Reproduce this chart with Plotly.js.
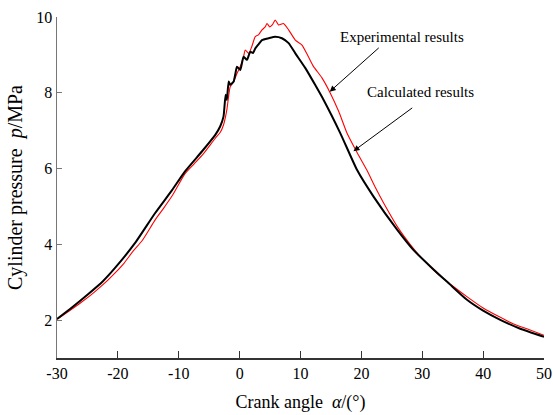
<!DOCTYPE html>
<html>
<head>
<meta charset="utf-8">
<script src="https://cdn.plot.ly/plotly-3.0.1.min.js"></script>
<style>html,body{margin:0;padding:0;background:#fff;}#chart{width:553px;height:415px;}</style>
</head>
<body>
<div id="chart"></div>
<script>
const calcX = [-30, -27.5, -25, -22.5, -20.5, -17.2, -13.9, -11.1, -9, -6.2, -4, -3.2, -2.65, -2.3, -2.1, -1.8, -1.55, -1.0, -0.7, -0.44, 0.1, 0.65, 1.2, 1.74, 2.2, 2.57, 3.1, 3.67, 4.75, 5.85, 6.95, 8.05, 9.15, 10.8, 12.4, 13.8, 16.55, 19.3, 22, 25.9, 28.5, 31.9, 34.5, 37.4, 40, 42.9, 46, 50];
const calcY = [2.03, 2.34, 2.67, 3.02, 3.37, 4.03, 4.82, 5.43, 5.92, 6.45, 6.89, 7.11, 7.37, 7.95, 7.81, 8.3, 8.21, 8.29, 8.5, 8.69, 8.6, 8.95, 8.87, 9.08, 9.05, 9.17, 9.28, 9.39, 9.44, 9.48, 9.44, 9.31, 9.04, 8.65, 8.21, 7.81, 6.93, 5.96, 5.26, 4.38, 3.86, 3.33, 2.95, 2.53, 2.25, 2.0, 1.78, 1.56];

const expX = [-30, -28, -26, -24, -22, -20.5, -19, -17.5, -16, -13.9, -12.5, -11, -9, -7.5, -6, -4, -3.2, -2.65, -2.1, -1.55, -1.0, -0.44, 0.1, 0.65, 0.92, 1.5, 2.0, 2.57, 3.1, 3.67, 4.2, 4.5, 4.95, 5.4, 5.85, 6.4, 7.2, 8.05, 9.15, 10.25, 11.3, 12.15, 13.5, 14.9, 16.3, 17.65, 19.2, 20.9, 22.3, 23.7, 26.1, 28, 30, 32.5, 35, 37.5, 40, 42.5, 45, 47.5, 50];
const expY = [2.02, 2.24, 2.47, 2.72, 3.0, 3.24, 3.5, 3.82, 4.1, 4.64, 4.95, 5.3, 5.86, 6.12, 6.38, 6.8, 6.95, 7.15, 7.55, 8.16, 8.29, 8.51, 8.69, 8.95, 9.13, 9.04, 9.22, 9.48, 9.53, 9.66, 9.74, 9.83, 9.74, 9.8, 9.92, 9.79, 9.83, 9.66, 9.39, 9.26, 8.95, 8.69, 8.4, 7.99, 7.5, 6.93, 6.45, 5.96, 5.5, 5.08, 4.42, 4.0, 3.62, 3.22, 2.9, 2.6, 2.32, 2.1, 1.9, 1.75, 1.6];

const xTicks = [-30, -20, -10, 0, 10, 20, 30, 40, 50];
const yTicks = [2, 4, 6, 8, 10];

const expLabel = 'Experimental results';
const calcLabel = 'Calculated results';

const traces = [
  {x: expX, y: expY, mode: 'lines', name: expLabel, line: {color: '#ff0000', width: 1.1, shape: 'spline', smoothing: 0.5}},
  {x: calcX, y: calcY, mode: 'lines', name: calcLabel, line: {color: '#000000', width: 2, shape: 'spline', smoothing: 0.5}}
];

const font = 'Liberation Serif';

const layout = {
  width: 553, height: 415,
  margin: {l: 57, r: 9, t: 17, b: 57},
  paper_bgcolor: '#fff', plot_bgcolor: '#fff',
  showlegend: false,
  font: {family: font, color: '#000', size: 16},
  xaxis: {
    range: [-30, 50], tickvals: xTicks, ticktext: xTicks.map(String),
    showline: true, linecolor: '#333', linewidth: 1.5, ticks: 'inside', ticklen: 7, tickcolor: '#333',
    showgrid: false, zeroline: false, tickfont: {family: font, size: 16, color: '#000'},
    title: {text: 'Crank angle  <i>α</i>/(°)', font: {family: font, size: 18}, standoff: 14}
  },
  yaxis: {
    range: [1, 10], tickvals: yTicks, ticktext: yTicks.map(String),
    showline: true, linecolor: '#777', linewidth: 1.5, ticks: 'inside', ticklen: 5, tickcolor: '#777',
    showgrid: false, zeroline: false, tickfont: {family: font, size: 16, color: '#000'},
    title: {text: 'Cylinder pressure  <i>p</i>/MPa', font: {family: font, size: 20}, standoff: 8}
  },
  annotations: [
    {x: 26.74, y: 9.46, xref: 'x', yref: 'y', text: expLabel, showarrow: false, font: {family: font, size: 15}},
    {x: 29.7, y: 8.02, xref: 'x', yref: 'y', text: calcLabel, showarrow: false, font: {family: font, size: 15}},
    {x: 14.8, y: 8.03, ax: 23.1, ay: 9.22, xref: 'x', yref: 'y', axref: 'x', ayref: 'y', text: '', showarrow: true, arrowhead: 2, arrowsize: 1.2, arrowwidth: 1, arrowcolor: '#000'},
    {x: 18.7, y: 6.46, ax: 28.6, ay: 7.63, xref: 'x', yref: 'y', axref: 'x', ayref: 'y', text: '', showarrow: true, arrowhead: 2, arrowsize: 1.2, arrowwidth: 1, arrowcolor: '#000'}
  ]
};

Plotly.newPlot('chart', traces, layout, {staticPlot: true, displayModeBar: false});
</script>
</body>
</html>
